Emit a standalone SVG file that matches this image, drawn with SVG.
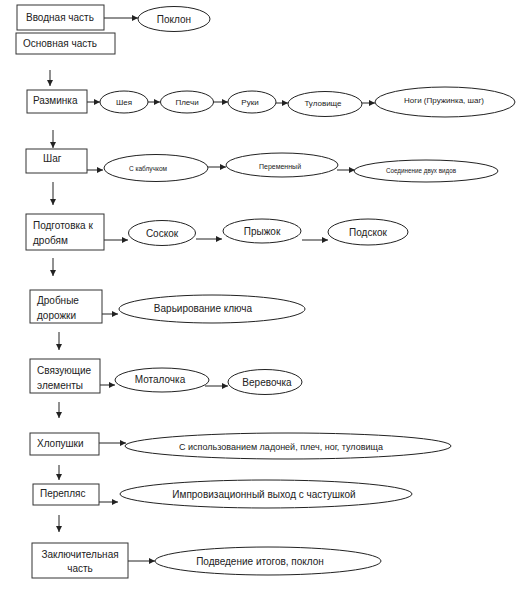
<svg xmlns="http://www.w3.org/2000/svg" width="520" height="589" viewBox="0 0 520 589">
<style>
.box{fill:#fff;stroke:#333;stroke-width:1}
.ell{fill:#fff;stroke:#222;stroke-width:1}
.t{font-family:"Liberation Sans",Arial,sans-serif;fill:#222;font-size:10px}
.m{text-anchor:middle}
.c{stroke:#222;stroke-width:1;fill:none}
</style>
<defs>
<marker id="ah" viewBox="0 0 6 6" refX="6" refY="3" markerWidth="6" markerHeight="6" markerUnits="userSpaceOnUse" orient="auto">
<path d="M0,0 L6,3 L0,6 z" fill="#222"/>
</marker>
</defs>
<rect width="520" height="589" fill="#fff"/>
<g id="connectors">
<line class="c" x1="104" y1="18" x2="138" y2="18" marker-end="url(#ah)"/>
<line class="c" x1="50" y1="70" x2="50" y2="86" marker-end="url(#ah)"/>
<line class="c" x1="87" y1="102" x2="100" y2="102" marker-end="url(#ah)"/>
<line class="c" x1="148" y1="102" x2="160" y2="102" marker-end="url(#ah)"/>
<line class="c" x1="213" y1="102" x2="228" y2="102" marker-end="url(#ah)"/>
<line class="c" x1="276" y1="103" x2="288" y2="103" marker-end="url(#ah)"/>
<line class="c" x1="362" y1="103" x2="375" y2="103" marker-end="url(#ah)"/>
<line class="c" x1="53" y1="130" x2="53" y2="148" marker-end="url(#ah)"/>
<line class="c" x1="87" y1="170" x2="103" y2="170" marker-end="url(#ah)"/>
<line class="c" x1="208" y1="167" x2="226" y2="167" marker-end="url(#ah)"/>
<line class="c" x1="337" y1="170" x2="355" y2="170" marker-end="url(#ah)"/>
<line class="c" x1="53" y1="182" x2="53" y2="205" marker-end="url(#ah)"/>
<line class="c" x1="104" y1="240" x2="128" y2="240" marker-end="url(#ah)"/>
<line class="c" x1="196" y1="239" x2="222" y2="239" marker-end="url(#ah)"/>
<line class="c" x1="302" y1="240" x2="328" y2="240" marker-end="url(#ah)"/>
<line class="c" x1="53" y1="258" x2="53" y2="276" marker-end="url(#ah)"/>
<line class="c" x1="102" y1="314" x2="118" y2="314" marker-end="url(#ah)"/>
<line class="c" x1="59" y1="332" x2="59" y2="350" marker-end="url(#ah)"/>
<line class="c" x1="100" y1="385" x2="115" y2="385" marker-end="url(#ah)"/>
<line class="c" x1="205" y1="386" x2="228" y2="386" marker-end="url(#ah)"/>
<line class="c" x1="59" y1="402" x2="59" y2="418" marker-end="url(#ah)"/>
<line class="c" x1="99" y1="443" x2="126" y2="443" marker-end="url(#ah)"/>
<line class="c" x1="59" y1="465" x2="59" y2="480" marker-end="url(#ah)"/>
<line class="c" x1="99" y1="502" x2="118" y2="502" marker-end="url(#ah)"/>
<line class="c" x1="59" y1="515" x2="59" y2="532" marker-end="url(#ah)"/>
<line class="c" x1="128" y1="561" x2="155" y2="561" marker-end="url(#ah)"/>
</g>
<g id="vvodnaya"><rect class="box" x="17" y="5" width="87" height="25"/><text class="t" x="26" y="21">Вводная часть</text></g>
<g id="poklon"><ellipse class="ell" cx="174" cy="19" rx="36" ry="12.5"/><text class="t m" x="174" y="23">Поклон</text></g>
<g id="osnovnaya"><rect class="box" x="16" y="33" width="99" height="21"/><text class="t" x="23" y="47">Основная часть</text></g>
<g id="razminka"><rect class="box" x="27" y="90" width="60" height="23"/><text class="t" x="33" y="104">Разминка</text></g>
<g id="sheya"><ellipse class="ell" cx="124" cy="102" rx="24" ry="11"/><text class="t m" x="124" y="105" style="font-size:8px">Шея</text></g>
<g id="plechi"><ellipse class="ell" cx="187" cy="102" rx="26.5" ry="11"/><text class="t m" x="187" y="105" style="font-size:8px">Плечи</text></g>
<g id="ruki"><ellipse class="ell" cx="252" cy="102" rx="24" ry="11"/><text class="t m" x="250" y="105" style="font-size:8px">Руки</text></g>
<g id="tulovishe"><ellipse class="ell" cx="325" cy="104" rx="37" ry="12.5"/><text class="t m" x="323" y="106" style="font-size:8px">Туловище</text></g>
<g id="nogi"><ellipse class="ell" cx="445" cy="102" rx="70" ry="15"/><text class="t m" x="444" y="103" style="font-size:8px">Ноги (Пружинка, шаг)</text></g>
<g id="shag"><rect class="box" x="26" y="149" width="61" height="24"/><text class="t" x="43" y="162">Шаг</text></g>
<g id="kabluchkom"><ellipse class="ell" cx="156" cy="168" rx="52" ry="13.5"/><text class="t m" x="148" y="171" style="font-size:6.5px">С каблучком</text></g>
<g id="peremenny"><ellipse class="ell" cx="282" cy="165" rx="56" ry="12"/><text class="t m" x="280" y="169" style="font-size:7px">Переменный</text></g>
<g id="soedinenie"><ellipse class="ell" cx="426" cy="171" rx="72" ry="11"/><text class="t m" x="421" y="173" style="font-size:6.3px">Соединение двух видов</text></g>
<g id="podgotovka"><rect class="box" x="26" y="214" width="78" height="36"/><text class="t" x="33" y="229">Подготовка к</text><text class="t" x="33" y="244">дробям</text></g>
<g id="soskok"><ellipse class="ell" cx="162" cy="233" rx="33.5" ry="12.5"/><text class="t m" x="162" y="237">Соскок</text></g>
<g id="pryzhok"><ellipse class="ell" cx="262" cy="231" rx="39" ry="12"/><text class="t m" x="262" y="235">Прыжок</text></g>
<g id="podskok"><ellipse class="ell" cx="368" cy="232" rx="40" ry="13"/><text class="t m" x="368" y="236">Подскок</text></g>
<g id="drobnye"><rect class="box" x="30" y="290" width="72" height="33"/><text class="t" x="37" y="304">Дробные</text><text class="t" x="37" y="319">дорожки</text></g>
<g id="varirovanie"><ellipse class="ell" cx="212" cy="309" rx="93" ry="14"/><text class="t m" x="203" y="312">Варьирование ключа</text></g>
<g id="svyazuyushie"><rect class="box" x="30" y="359" width="70" height="34"/><text class="t" x="37" y="374">Связующие</text><text class="t" x="37" y="389">элементы</text></g>
<g id="motalochka"><ellipse class="ell" cx="162" cy="380" rx="47" ry="12"/><text class="t m" x="160" y="383">Моталочка</text></g>
<g id="verevochka"><ellipse class="ell" cx="265" cy="382" rx="37" ry="12.5"/><text class="t m" x="267" y="386">Веревочка</text></g>
<g id="hlopushki"><rect class="box" x="30" y="433" width="69" height="22"/><text class="t" x="37" y="447">Хлопушки</text></g>
<g id="s-ispolzovaniem"><ellipse class="ell" cx="288" cy="446" rx="163" ry="13"/><text class="t m" x="281" y="450" style="font-size:9px">С использованием ладоней, плеч, ног, туловища</text></g>
<g id="pereplyas"><rect class="box" x="33" y="484" width="66" height="21"/><text class="t" x="40" y="497">Перепляс</text></g>
<g id="improvizacionny"><ellipse class="ell" cx="266" cy="494" rx="146" ry="14"/><text class="t m" x="264" y="498">Импровизационный выход с частушкой</text></g>
<g id="zaklyuchitelnaya"><rect class="box" x="32" y="543" width="96" height="35"/><text class="t m" x="80" y="558">Заключительная</text><text class="t m" x="80" y="572">часть</text></g>
<g id="podvedenie"><ellipse class="ell" cx="268" cy="561" rx="113" ry="14"/><text class="t m" x="260" y="565">Подведение итогов, поклон</text></g>
</svg>
